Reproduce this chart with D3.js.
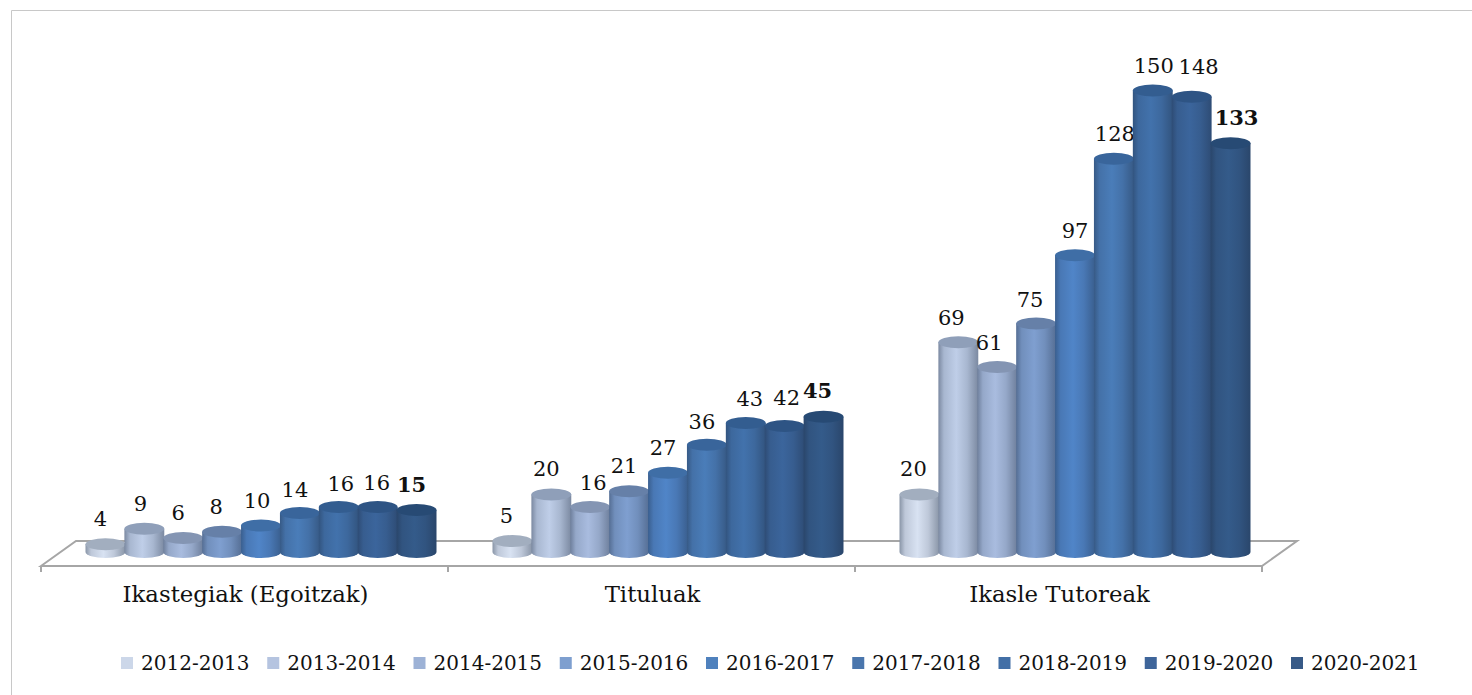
<!DOCTYPE html>
<html><head><meta charset="utf-8">
<style>html,body{margin:0;background:#fff}svg{display:block}text{font-family:"DejaVu Serif",serif;fill:#111}</style>
<script src="https://cdn.jsdelivr.net/npm/d3@7"></script></head>
<body><svg id="c" width="1472" height="695"></svg>
<script>
const categories = ["Ikastegiak (Egoitzak)", "Tituluak", "Ikasle Tutoreak"];
const seasons = ["2012-2013","2013-2014","2014-2015","2015-2016","2016-2017","2017-2018","2018-2019","2019-2020","2020-2021"];
const ikastegiak = [4,9,6,8,10,14,16,16,15];
const tituluak = [5,20,16,21,27,36,43,42,45];
const tutoreak = [20,69,61,75,97,128,150,148,133];
const seriesByCategory = [ikastegiak, tituluak, tutoreak];
const bodyColors = ["#d8e2f2","#bfcee8","#a9bcdf","#7f9fd0","#5085c8","#4a7db9","#4272ac","#3b659c","#345b8a"];
const legendColors = ["#ccd7e9","#b5c4e0","#9db2d6","#7e9fcf","#4f81bd","#4a76ad","#426fa6","#3e659a","#375a87"];
const topColors = ["#a2aebf","#8f9fb9","#8495b3","#6680a8","#3f6ea6","#39659b","#335d90","#2e5484","#274a74"];
const labelShiftX = [[-5,-4,-5,-6,-4,-5,2,-1,-5],[-6,-5,3,-5,-5,-5,4,2,-6],[-6,-7,-8,-6,0,1,1,7,6]];
const labelShiftY = [[-2,-2,-2,-2,-2,0,0,-1,-2],[-2,-2,-1,-2,-2,0,-1,-5,-3],[-2,-1,-1,-1,-1,-2,-2,-7,-2]];

const svg = d3.select("#c");
const defs = svg.append("defs");
const shade = (c,t)=>d3.interpolateRgb(c,"#1c2a40")(t);
bodyColors.forEach((c,i)=>{
  const g = defs.append("linearGradient").attr("id","g"+i).attr("x1",0).attr("x2",1).attr("y1",0).attr("y2",0);
  const dark = shade(c,0.42), mid = shade(c,0.14);
  [[0,dark],[0.14,mid],[0.45,c],[0.72,mid],[1,dark]].forEach(([o,col])=>g.append("stop").attr("offset",o).attr("stop-color",col));
});

// frame
svg.append("path").attr("d","M11.5,695V10.5H1472").attr("fill","none").attr("stroke","#c8c8c8");

const groupX = d3.scaleBand().domain(categories).range([41,1262]);
const seriesX = d3.scaleBand().domain(seasons).range([0,350]);
const y = d3.scaleLinear().domain([0,150]).range([556.6,90.5]);
const groupOffset = 45;
const floorDepth = {dx:35, dy:-25}, floorY = 566;

// floor
const x0 = groupX.range()[0], x1 = groupX.range()[1];
svg.append("path")
  .attr("d",`M${x0},${floorY}L${x0+floorDepth.dx},${floorY+floorDepth.dy}L${x1+floorDepth.dx},${floorY+floorDepth.dy}L${x1},${floorY}Z`)
  .attr("fill","none").attr("stroke","#a6a6a6").attr("stroke-width",2);
[...categories.map(c=>groupX(c)),x1].forEach(t=>{
  svg.append("line").attr("x1",t).attr("x2",t).attr("y1",floorY).attr("y2",floorY+6).attr("stroke","#a6a6a6").attr("stroke-width",2);
});

// cylinders
const ry = 6;
const baseY = y(0) - 4.6;
categories.forEach((cat,gi)=>{
  const g = svg.append("g").attr("transform",`translate(${groupX(cat)+groupOffset},0)`);
  const vals = seriesByCategory[gi];
  const w = seriesX.bandwidth(), rx = w/2+0.5;
  const bars = g.selectAll("g").data(vals).join("g");
  bars.append("path")
    .attr("d",(d,i)=>{const cx=seriesX(seasons[i])+w/2;
      return `M${cx-rx},${y(d)}L${cx-rx},${baseY}A${rx},${ry} 0 0 0 ${cx+rx},${baseY}L${cx+rx},${y(d)}Z`;})
    .attr("fill",(d,i)=>`url(#g${i})`);
  bars.append("ellipse")
    .attr("cx",(d,i)=>seriesX(seasons[i])+w/2).attr("cy",d=>y(d))
    .attr("rx",rx).attr("ry",ry).attr("fill",(d,i)=>topColors[i]);
  bars.append("text")
    .attr("x",(d,i)=>seriesX(seasons[i])+w/2+labelShiftX[gi][i])
    .attr("y",(d,i)=>y(d)-16+labelShiftY[gi][i])
    .attr("text-anchor","middle").attr("font-size",21)
    .attr("font-weight",(d,i)=>i===seasons.length-1?"bold":"normal")
    .text(d=>d);
  svg.append("text").attr("x",groupX(cat)+groupX.bandwidth()/2+1).attr("y",602)
    .attr("text-anchor","middle").attr("font-size",22.8).text(cat);
});

// legend
const legendX = d3.scalePoint().domain(seasons).range([121,1291]);
const leg = svg.append("g").selectAll("g").data(seasons).join("g")
  .attr("transform",d=>`translate(${legendX(d)},0)`);
leg.append("rect").attr("y",657).attr("width",12).attr("height",12).attr("fill",(d,i)=>legendColors[i]);
leg.append("text").attr("x",20).attr("y",670).attr("font-size",20).text(d=>d);
</script></body></html>
